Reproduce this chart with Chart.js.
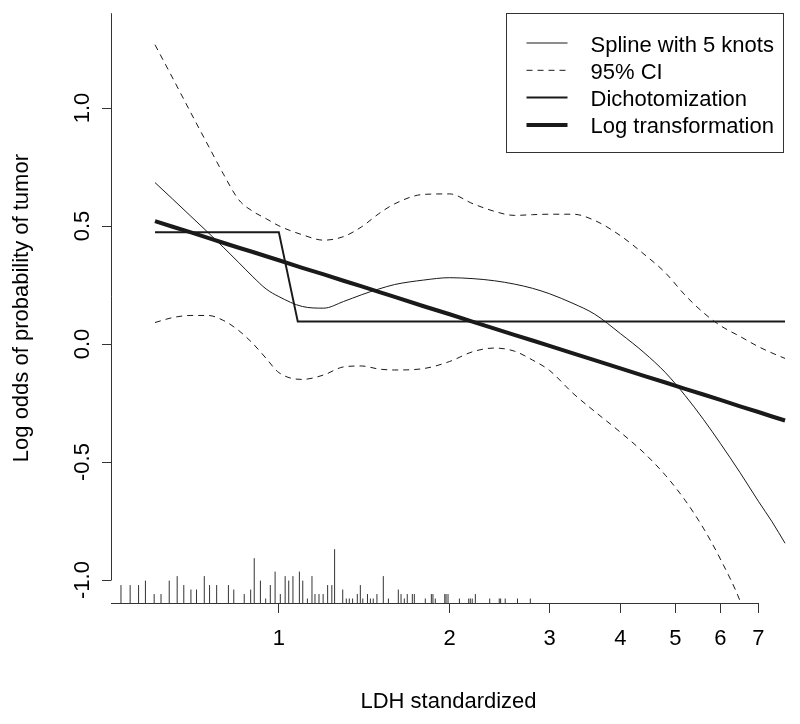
<!DOCTYPE html>
<html>
<head>
<meta charset="utf-8">
<script src="https://cdn.jsdelivr.net/npm/chart.js@4/dist/chart.umd.min.js"></script>
<style>
  html, body { margin: 0; padding: 0; background: #ffffff; }
  #wrap { width: 800px; height: 724px; }
</style>
</head>
<body>
<div id="wrap"><canvas id="c" width="800" height="724"></canvas></div>
<script>
// ---------- data ----------
const xGrid = [0.605, 0.65, 0.70, 0.75, 0.80, 0.85, 0.90, 0.95, 1.0, 1.1, 1.2, 1.3, 1.4, 1.5, 1.6, 1.8,
               2.0, 2.2, 2.4, 2.6, 2.8, 3.0, 3.3, 3.6, 4.0, 4.4, 4.8, 5.2, 5.6, 6.0, 6.5, 7.0, 7.4, 7.8];

const splineY = [0.684, 0.614, 0.541, 0.473, 0.408, 0.345, 0.285, 0.233, 0.201, 0.159, 0.152, 0.180, 0.209, 0.233, 0.252, 0.271,
                 0.281, 0.277, 0.268, 0.254, 0.236, 0.213, 0.172, 0.127, 0.044, -0.036, -0.121, -0.218, -0.319, -0.421, -0.545, -0.666, -0.753, -0.844];

const ciUpperY = [1.268, 1.127, 0.979, 0.843, 0.717, 0.611, 0.562, 0.531, 0.501, 0.463, 0.440, 0.455, 0.497, 0.552, 0.594, 0.634,
                  0.636, 0.594, 0.562, 0.545, 0.548, 0.550, 0.550, 0.524, 0.459, 0.381, 0.302, 0.207, 0.133, 0.078, 0.032, -0.011, -0.038, -0.061];

const ciLowerY = [0.091, 0.112, 0.121, 0.121, 0.099, 0.057, 0.002, -0.061, -0.121, -0.150, -0.131, -0.097, -0.093, -0.106, -0.110, -0.104,
                  -0.074, -0.032, -0.017, -0.030, -0.068, -0.112, -0.209, -0.285, -0.374, -0.461, -0.556, -0.662, -0.780, -0.911, -1.089, -1.317, null, null];

const logTransY = [0.521, 0.497, 0.473, 0.450, 0.428, 0.408, 0.390, 0.372, 0.355, 0.323, 0.295, 0.268, 0.244, 0.221, 0.200, 0.160,
                   0.126, 0.094, 0.065, 0.039, 0.015, -0.008, -0.040, -0.068, -0.103, -0.135, -0.163, -0.190, -0.214, -0.237, -0.264, -0.288, -0.307, -0.324];

const dichotX = [0.605, 1.0, 1.08, 7.8];
const dichotY = [0.474, 0.474, 0.095, 0.095];

const rugX = [0.527, 0.547, 0.566, 0.582, 0.603, 0.620, 0.641, 0.662, 0.680, 0.700, 0.716, 0.739, 0.755, 0.777, 0.815, 0.833,
              0.869, 0.892, 0.905, 0.928, 0.948, 0.966, 0.985, 1.006, 1.026, 1.041, 1.059, 1.087, 1.102, 1.123, 1.144, 1.158,
              1.177, 1.197, 1.219, 1.240, 1.254, 1.296, 1.315, 1.331, 1.349, 1.375, 1.392, 1.406, 1.433, 1.450, 1.467, 1.489,
              1.528, 1.560, 1.624, 1.642, 1.664, 1.684, 1.719, 1.733, 1.812, 1.857, 1.869, 1.887, 1.961, 1.971, 1.987, 2.081,
              2.161, 2.175, 2.192, 2.220, 2.353, 2.446, 2.460, 2.506, 2.634, 2.775];
const rugCount = [4, 4, 4, 5, 2, 2, 5, 6, 4, 3, 3, 6, 4, 4, 4, 3,
                  2, 3, 10, 5, 1, 4, 7, 2, 6, 5, 6, 7, 5, 1, 6, 2,
                  2, 2, 4, 4, 12, 3, 1, 1, 1, 2, 4, 1, 2, 1, 1, 2,
                  6, 1, 3, 2, 1, 2, 2, 2, 1, 2, 2, 1, 2, 2, 2, 1,
                  1, 1, 1, 2, 1, 1, 1, 1, 1, 1];

const xTickValues = [1, 2, 3, 4, 5, 6, 7];
const xTickLabels = ['1', '2', '3', '4', '5', '6', '7'];
const yTickValues = [-1.0, -0.5, 0.0, 0.5, 1.0];
const yTickLabels = ['-1.0', '-0.5', '0.0', '0.5', '1.0'];

const legendLabels = ['Spline with 5 knots', '95% CI', 'Dichotomization', 'Log transformation'];
const xTitle = 'LDH standardized';
const yTitle = 'Log odds of probability of tumor';

// ---------- scale ranges ----------
const X_MIN = 0.5061, X_MAX = 7.831;
const Y_MIN = -1.0973, Y_MAX = 1.4017;
const RUG_UNIT = 0.019;   // log-odds units per observation in the rug spikes

// ---------- build datasets ----------
function series(label, xs, ys, width, dash, extra) {
  return Object.assign({
    type: 'line', label,
    data: xs.map((x, i) => ({ x, y: ys[i] })),
    borderColor: '#1a1a1a', borderWidth: width, borderDash: dash,
    pointRadius: 0, pointHoverRadius: 0, tension: 0, fill: false, spanGaps: false
  }, extra || {});
}

const smooth = { cubicInterpolationMode: 'monotone' };

const rugData = [];
rugX.forEach((x, i) => {
  rugData.push({ x, y: Y_MIN }, { x, y: Y_MIN + rugCount[i] * RUG_UNIT }, { x, y: null });
});

const datasets = [
  series(legendLabels[0], xGrid, splineY, 1, [], smooth),
  series(legendLabels[1], xGrid, ciUpperY, 1, [6, 5], smooth),
  series('', xGrid, ciLowerY, 1, [6, 5], Object.assign({ noLegend: true }, smooth)),
  series(legendLabels[2], dichotX, dichotY, 2, []),
  series(legendLabels[3], xGrid, logTransY, 4, []),
  { type: 'line', label: '', noLegend: true, data: rugData, borderColor: '#333', borderWidth: 1,
    pointRadius: 0, tension: 0, spanGaps: false, fill: false }
];

// ---------- plugin: axis lines + boxed legend ----------
const framePlugin = {
  id: 'frame',
  afterDraw(chart) {
    const { ctx, chartArea: a, scales: { x, y } } = chart;
    ctx.save();
    ctx.strokeStyle = '#333';
    ctx.lineWidth = 1;
    ctx.setLineDash([]);
    ctx.beginPath();
    const lx = Math.round(a.left) + 0.5;
    ctx.moveTo(lx, a.top);
    ctx.lineTo(lx, Math.round(y.getPixelForValue(yTickValues[0])) + 0.5);
    const by = Math.round(a.bottom) + 0.5;
    ctx.moveTo(a.left, by);
    ctx.lineTo(Math.round(x.getPixelForValue(xTickValues[xTickValues.length - 1])) + 0.5, by);
    ctx.stroke();

    // legend box
    const bw = 277, bh = 139;
    const bx = Math.round(a.right - 3 - bw) + 0.5;
    const byTop = Math.round(a.top) + 0.5;
    ctx.strokeStyle = '#333';
    ctx.lineWidth = 1;
    ctx.strokeRect(bx, byTop, bw, bh);

    const items = chart.data.datasets.filter(d => !d.noLegend);
    ctx.font = '22px "Liberation Sans", Arial, sans-serif';
    ctx.fillStyle = '#000';
    ctx.textBaseline = 'middle';
    ctx.textAlign = 'left';
    items.forEach((d, i) => {
      const ty = byTop + 32 + i * 27.3;
      const ly = ty - 2.5;
      ctx.beginPath();
      ctx.lineWidth = d.borderWidth;
      ctx.strokeStyle = d.borderColor;
      ctx.setLineDash(d.borderDash || []);
      ctx.moveTo(bx + 20, ly);
      ctx.lineTo(bx + 61, ly);
      ctx.stroke();
      ctx.setLineDash([]);
      ctx.fillText(d.label, bx + 84, ty);
    });
    ctx.restore();
  }
};

Chart.defaults.font.family = '"Liberation Sans", Arial, sans-serif';
Chart.defaults.font.size = 22;
Chart.defaults.color = '#000';

new Chart(document.getElementById('c'), {
  type: 'line',
  data: { datasets },
  options: {
    responsive: false,
    devicePixelRatio: 1,
    animation: false,
    events: [],
    layout: { padding: { top: 12, right: 14, left: 0, bottom: 0 } },
    plugins: { legend: { display: false }, tooltip: { enabled: false }, title: { display: false } },
    scales: {
      x: {
        type: 'logarithmic', min: X_MIN, max: X_MAX, bounds: 'data',
        afterBuildTicks: s => { s.ticks = xTickValues.map(v => ({ value: v })); },
        afterFit: s => { s.height = 121; },
        grid: { drawOnChartArea: false, drawTicks: true, tickLength: 10, color: '#333', lineWidth: 1 },
        border: { display: false },
        ticks: { autoSkip: false, minRotation: 0, maxRotation: 0, padding: 13, color: '#000',
                 font: { size: 22 }, callback: (v, i) => xTickLabels[i] },
        title: { display: true, text: xTitle, color: '#000', font: { size: 22 }, padding: { top: 0, bottom: 9 } }
      },
      y: {
        type: 'linear', min: Y_MIN, max: Y_MAX, bounds: 'data',
        afterBuildTicks: s => { s.ticks = yTickValues.map(v => ({ value: v })); },
        afterFit: s => { s.width = 111; },
        grid: { drawOnChartArea: false, drawTicks: true, tickLength: 9, color: '#333', lineWidth: 1 },
        border: { display: false },
        ticks: { autoSkip: false, minRotation: 90, maxRotation: 90, crossAlign: 'center', padding: 0,
                 color: '#000', font: { size: 22 }, callback: (v, i) => yTickLabels[i] },
        title: { display: true, text: yTitle, color: '#000', font: { size: 22 }, padding: { top: 9, bottom: 0 } }
      }
    }
  },
  plugins: [framePlugin]
});
</script>
</body>
</html>
